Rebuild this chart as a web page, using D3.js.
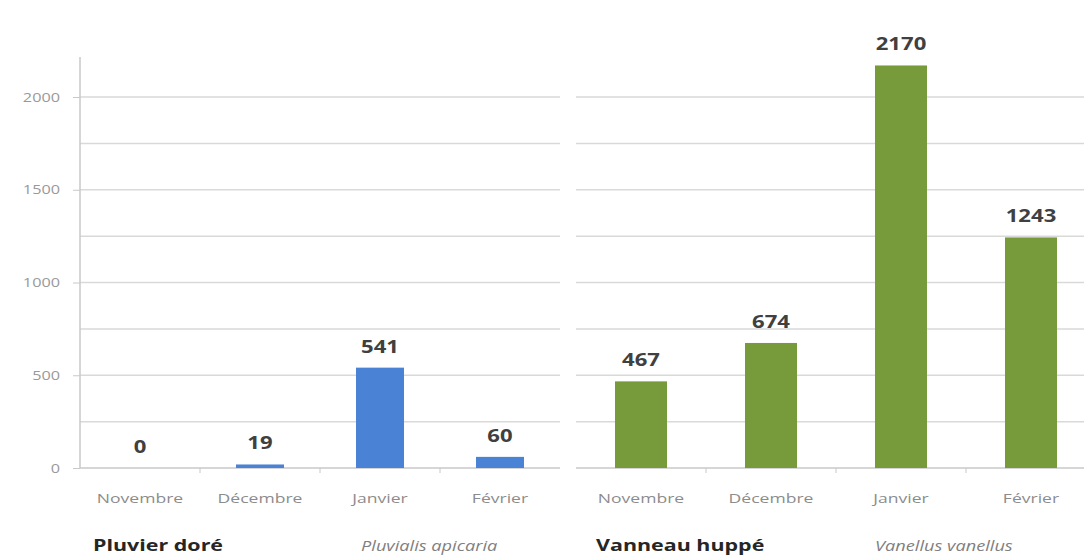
<!DOCTYPE html>
<meta charset="utf-8">
<style>
body { margin: 0; background: #fff; }
svg { font-family: "Open Sans", "Liberation Sans", sans-serif; }
.grid line { stroke: #d9d9d9; stroke-width: 1.5px; }
.val { fill: #404040; font-size: 17px; font-weight: bold; }
.title { fill: #262626; font-size: 16.5px; font-weight: bold; }
.latin { fill: #7f7f7f; font-size: 14px; font-style: italic; }
</style>
<svg width="1084" height="558"></svg>
<script src="https://d3js.org/d3.v7.min.js"></script>
<script>
// months on the x axis, same for both species
const months = ["Novembre", "Décembre", "Janvier", "Février"];
const pluvier = [0, 19, 541, 60];
const vanneau = [467, 674, 2170, 1243];
const yTicks = [0, 500, 1000, 1500, 2000];
const gridVals = [250, 500, 750, 1000, 1250, 1500, 1750, 2000];

const groups = [
  {name: "Pluvier doré", latin: "Pluvialis apicaria", values: pluvier, color: "#4a82d6", x0: 80, x1: 560, titleX: 93, latinX: 361},
  {name: "Vanneau huppé", latin: "Vanellus vanellus", values: vanneau, color: "#779a3a", x0: 576, x1: 1096, titleX: 596, latinX: 875}
];

const SX = 1.3; // the source text is drawn wide
const svg = d3.select("svg");
const y = d3.scaleLinear().domain([0, 2000]).range([468, 97]);

function wideText(parent, x, yy, txt, cls, anchor) {
  return parent.append("text").attr("class", cls || null)
    .attr("transform", "translate(" + x + "," + yy + ") scale(" + SX + ",1)")
    .attr("text-anchor", anchor || "start")
    .text(txt);
}

// horizontal gridlines, broken between the two panels
groups.forEach(function(g) {
  svg.append("g").attr("class", "grid")
    .selectAll("line").data(gridVals).enter().append("line")
    .attr("x1", g.x0).attr("x2", Math.min(g.x1, 1084))
    .attr("y1", d => y(d)).attr("y2", d => y(d));
});

// y axis
const yAxis = svg.append("g")
  .attr("transform", "translate(80,0)")
  .call(d3.axisLeft(y).tickValues(yTicks).tickFormat(d3.format("d")).tickSize(7).tickPadding(6));
yAxis.select(".domain").remove();
yAxis.selectAll("line").attr("stroke", "#c8c8c8");
yAxis.selectAll("text").attr("fill", "#999").style("font-size", "12.5px")
  .style("font-family", "'Open Sans', sans-serif")
  .attr("x", -20 / SX).attr("transform", "scale(" + SX + ",1)");
svg.append("line").attr("x1", 80).attr("x2", 80).attr("y1", 57).attr("y2", 468)
  .attr("stroke", "#c8c8c8").attr("stroke-width", 1.5);

groups.forEach(function(g) {
  const x = d3.scaleBand().domain(months).range([g.x0, g.x1]).paddingInner(0.6).paddingOuter(0.3);
  const band = d3.scaleBand().domain(months).range([g.x0, g.x1]);

  // baseline with small ticks at category boundaries
  svg.append("line").attr("x1", g.x0).attr("x2", Math.min(g.x1, 1084))
    .attr("y1", y(0)).attr("y2", y(0)).attr("stroke", "#c8c8c8").attr("stroke-width", 1.5);
  svg.append("g").selectAll("line").data(months.slice(1)).enter().append("line")
    .attr("x1", d => band(d)).attr("x2", d => band(d))
    .attr("y1", y(0)).attr("y2", y(0) + 5).attr("stroke", "#c8c8c8");

  const data = months.map((m, i) => ({m: m, v: g.values[i]}));

  svg.append("g").selectAll("rect").data(data).enter().append("rect")
    .attr("x", d => x(d.m)).attr("width", x.bandwidth())
    .attr("y", d => y(d.v)).attr("height", d => y(0) - y(d.v))
    .attr("fill", g.color);

  const labels = svg.append("g");
  data.forEach(function(d) {
    wideText(labels, x(d.m) + x.bandwidth() / 2, y(d.v) - 15, d.v, "val", "middle");
  });

  const ticks = svg.append("g").attr("fill", "#8c8c8c").style("font-size", "13.5px");
  months.forEach(function(m) {
    wideText(ticks, band(m) + band.bandwidth() / 2, 503, m, null, "middle");
  });

  wideText(svg, g.titleX, 551, g.name, "title");
  wideText(svg, g.latinX, 551, g.latin, "latin");
});
</script>
